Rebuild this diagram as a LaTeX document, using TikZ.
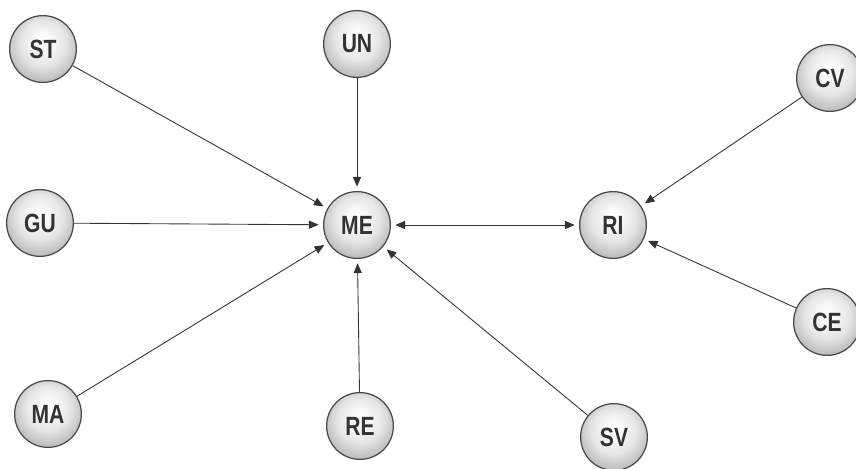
\documentclass[tikz,border=0pt]{standalone}
\usepackage{fontspec}
\setsansfont{Liberation Sans}[FakeStretch=0.8]
\usepackage{tikz}
\usetikzlibrary{arrows.meta}

\definecolor{rim}{HTML}{4A4A4A}
\definecolor{ink}{HTML}{333333}
\pgfdeclareradialshading{sphere}{\pgfpoint{0bp}{7bp}}{%
  color(0bp)=(white); color(7bp)=(gray!6); color(17bp)=(gray!20);
  color(26bp)=(gray!48); color(32bp)=(gray!60); color(50bp)=(gray!60)}

\tikzset{
  ball/.style={circle, draw=rim, line width=0.7pt, shading=sphere,
               minimum size=38pt, inner sep=0pt,
               font=\sffamily\bfseries\fontsize{15}{15}\selectfont, text=ink},
  link/.style={draw=ink, line width=0.5pt,
               -{Triangle[length=5.5pt,width=4.6pt]}, shorten >=2.5pt}
}

\begin{document}
\begin{tikzpicture}[x=0.02cm, y=-0.02cm, link]
  \useasboundingbox (0,0) rectangle (856,469);

  \node[ball] (ST) at (43,49)   {ST};
  \node[ball] (UN) at (357,44)  {UN};
  \node[ball] (CV) at (830,78)  {CV};
  \node[ball] (GU) at (40,223)  {GU};
  \node[ball] (ME) at (357,225) {ME};
  \node[ball] (RI) at (613,225) {RI};
  \node[ball] (CE) at (827,322) {CE};
  \node[ball] (MA) at (48,414)  {MA};
  \node[ball] (RE) at (360,426) {RE};
  \node[ball] (SV) at (614,437) {SV};

  \path (ST) edge                    (ME)
        (UN) edge                    (ME)
        (GU) edge                    (ME)
        (MA) edge                    (ME)
        (RE) edge                    (ME)
        (SV) edge                    (ME)
        (ME) edge [shorten <=2.5pt,
                   {Triangle[length=5.5pt,width=4.6pt]}-{Triangle[length=5.5pt,width=4.6pt]}] (RI)
        (CV) edge                    (RI)
        (CE) edge                    (RI)
        ;
\end{tikzpicture}
\end{document}
